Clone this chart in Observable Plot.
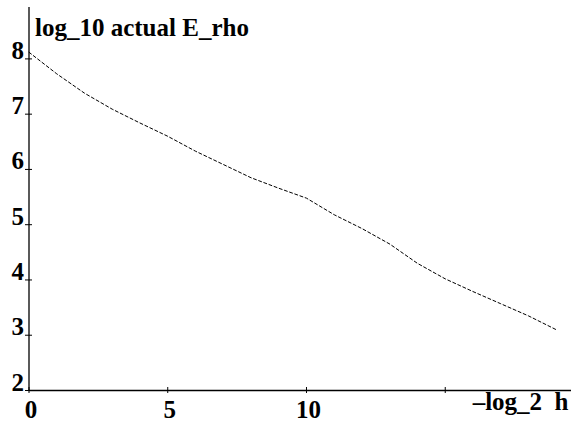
<!DOCTYPE html>
<html>
<head>
<meta charset="utf-8">
<script src="https://cdn.jsdelivr.net/npm/d3@7"></script>
<script src="https://cdn.jsdelivr.net/npm/@observablehq/plot@0.6"></script>
<style>
  html, body { margin: 0; padding: 0; background: #fff; }
  svg text { font-weight: bold; }
</style>
</head>
<body>
<div id="chart"></div>
<script>
const xValues = [0, 1, 2, 3, 4, 5, 6, 7, 8, 9, 10, 11, 12, 13, 14, 15, 16, 17, 18, 19];
const yValues = [8.12, 7.73, 7.38, 7.09, 6.84, 6.60, 6.33, 6.09, 5.85, 5.66, 5.48, 5.18, 4.93, 4.65, 4.30, 4.02, 3.79, 3.57, 3.35, 3.10];
const xTicks = [0, 5, 10, 15];
const xTickLabels = ["0", "5", "10", ""];
const yTicks = [2, 3, 4, 5, 6, 7, 8];
const yTickLabels = ["2", "3", "4", "5", "6", "7", "8"];
const titleText = "log_10 actual E_rho";
const xLabelText = "\u2013log_2  h";

const data = xValues.map((x, i) => ({x, y: yValues[i]}));
const font = "'Liberation Serif', 'Times New Roman', serif";

const chart = Plot.plot({
  width: 571,
  height: 423,
  marginLeft: 28.5,
  marginRight: 0,
  marginTop: 7,
  marginBottom: 33,
  x: {domain: [0, 19.55]},
  y: {domain: [2, 8.93]},
  style: {fontFamily: font, fontWeight: "bold", fontSize: "25px", background: "#fff", color: "#000"},
  marks: [
    Plot.ruleX([0], {stroke: "#000", strokeWidth: 1.3}),
    Plot.ruleY([2], {stroke: "#000", strokeWidth: 1.3}),
    Plot.ruleY(yTicks, {x1: 0, x2: 0, insetLeft: -3.5, insetRight: -3.5, stroke: "#000"}),
    Plot.ruleX(xTicks, {y1: 2, y2: 2, insetTop: -3, insetBottom: -3, stroke: "#000"}),
    Plot.axisY({ticks: yTicks, tickSize: 0, tickPadding: 5, dy: -8, label: null, fontSize: 25, fontWeight: "bold",
      tickFormat: d => yTickLabels[yTicks.indexOf(d)]}),
    Plot.axisX({ticks: xTicks, tickSize: 0, tickPadding: 10, dx: 2, label: null, fontSize: 25, fontWeight: "bold",
      tickFormat: d => xTickLabels[xTicks.indexOf(d)]}),
    Plot.line(data, {x: "x", y: "y", stroke: "#000", strokeWidth: 1, strokeDasharray: "3,2.5"}),
    Plot.text([titleText], {frameAnchor: "top-left", textAnchor: "start", lineAnchor: "top", dx: 6, dy: 11, fontSize: 25, fontWeight: "bold", fill: "#000"}),
    Plot.text([xLabelText], {frameAnchor: "bottom-right", textAnchor: "end", lineAnchor: "top", dx: -3, dy: 2, fontSize: 25, fontWeight: "bold", fill: "#000"})
  ]
});
document.getElementById("chart").appendChild(chart);
</script>
</body>
</html>
